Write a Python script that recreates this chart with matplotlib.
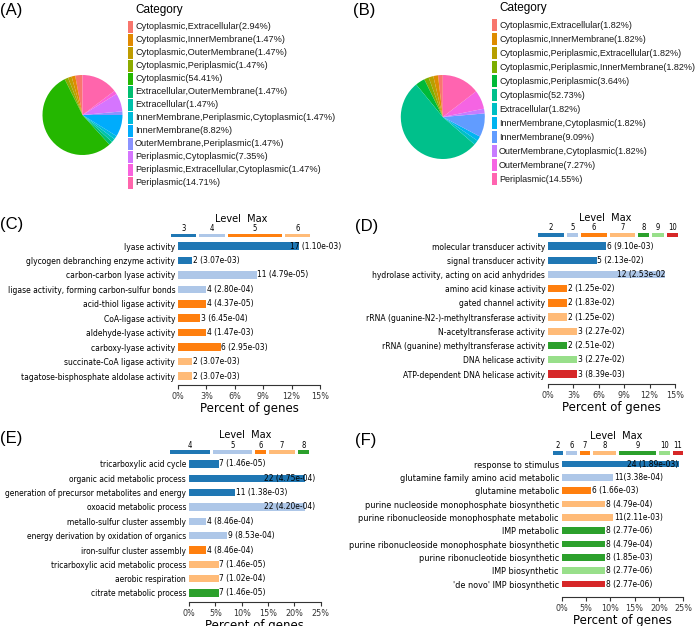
import numpy as np
import matplotlib
matplotlib.use("Agg")
import matplotlib.pyplot as plt
from matplotlib.patches import Rectangle

# ---- данные: круговые диаграммы (A), (B)
A_names = ["Cytoplasmic,Extracellular", "Cytoplasmic,InnerMembrane", "Cytoplasmic,OuterMembrane",
           "Cytoplasmic,Periplasmic", "Cytoplasmic", "Extracellular,OuterMembrane", "Extracellular",
           "InnerMembrane,Periplasmic,Cytoplasmic", "InnerMembrane", "OuterMembrane,Periplasmic",
           "Periplasmic,Cytoplasmic", "Periplasmic,Extracellular,Cytoplasmic", "Periplasmic"]
A_pct = [2.94, 1.47, 1.47, 1.47, 54.41, 1.47, 1.47, 1.47, 8.82, 1.47, 7.35, 1.47, 14.71]
A_colors = ["#F8766D", "#E18A00", "#BE9C00", "#8CAB00", "#24B700", "#00BE70", "#00C1AB",
            "#00BBDA", "#00ACFC", "#8B93FF", "#D575FE", "#F962DD", "#FF65AC"]

B_names = ["Cytoplasmic,Extracellular", "Cytoplasmic,InnerMembrane", "Cytoplasmic,Periplasmic,Extracellular",
           "Cytoplasmic,Periplasmic,InnerMembrane", "Cytoplasmic,Periplasmic", "Cytoplasmic", "Extracellular",
           "InnerMembrane,Cytoplasmic", "InnerMembrane", "OuterMembrane,Cytoplasmic", "OuterMembrane",
           "Periplasmic"]
B_pct = [1.82, 1.82, 1.82, 1.82, 3.64, 52.73, 1.82, 1.82, 9.09, 1.82, 7.27, 14.55]
B_colors = ["#F8766D", "#DE8C00", "#B79F00", "#7CAE00", "#00BA38", "#00C08B", "#00BFC4",
            "#00B4F0", "#619CFF", "#C77CFF", "#F564E3", "#FF64B0"]

# ---- данные: столбчатые диаграммы (C)-(F)
C_terms = ["lyase activity", "glycogen debranching enzyme activity", "carbon-carbon lyase activity",
           "ligase activity, forming carbon-sulfur bonds", "acid-thiol ligase activity", "CoA-ligase activity",
           "aldehyde-lyase activity", "carboxy-lyase activity", "succinate-CoA ligase activity",
           "tagatose-bisphosphate aldolase activity"]
C_pct = [12.8, 1.5, 8.3, 3.0, 3.0, 2.3, 3.0, 4.5, 1.5, 1.5]
C_level = [3, 3, 4, 4, 5, 5, 5, 5, 6, 6]
C_labels = ["17 (1.10e-03)", "2 (3.07e-03)", "11 (4.79e-05)", "4 (2.80e-04)", "4 (4.37e-05)",
            "3 (6.45e-04)", "4 (1.47e-03)", "6 (2.95e-03)", "2 (3.07e-03)", "2 (3.07e-03)"]

D_terms = ["molecular transducer activity", "signal transducer activity",
           "hydrolase activity, acting on acid anhydrides", "amino acid kinase activity",
           "gated channel activity", "rRNA (guanine-N2-)-methyltransferase activity",
           "N-acetyltransferase activity", "rRNA (guanine) methyltransferase activity",
           "DNA helicase activity", "ATP-dependent DNA helicase activity"]
D_pct = [6.9, 5.75, 13.8, 2.3, 2.3, 2.3, 3.45, 2.3, 3.45, 3.45]
D_level = [2, 2, 5, 6, 6, 7, 7, 8, 9, 10]
D_labels = ["6 (9.10e-03)", "5 (2.13e-02)", "12 (2.53e-02", "2 (1.25e-02)", "2 (1.83e-02)",
            "2 (1.25e-02)", "3 (2.27e-02)", "2 (2.51e-02)", "3 (2.27e-02)", "3 (8.39e-03)"]

E_terms = ["tricarboxylic acid cycle", "organic acid metabolic process",
           "generation of precursor metabolites and energy", "oxoacid metabolic process",
           "metallo-sulfur cluster assembly", "energy derivation by oxidation of organics",
           "iron-sulfur cluster assembly", "tricarboxylic acid metabolic process",
           "aerobic respiration", "citrate metabolic process"]
E_pct = [5.6, 22.0, 8.8, 22.0, 3.2, 7.2, 3.2, 5.6, 5.6, 5.6]
E_level = [4, 4, 4, 5, 5, 5, 6, 7, 7, 8]
E_labels = ["7 (1.46e-05)", "22 (4.75e-04)", "11 (1.38e-03)", "22 (4.20e-04)", "4 (8.46e-04)",
            "9 (8.53e-04)", "4 (8.46e-04)", "7 (1.46e-05)", "7 (1.02e-04)", "7 (1.46e-05)"]

F_terms = ["response to stimulus", "glutamine family amino acid metabolic", "glutamine metabolic",
           "purine nucleoside monophosphate biosynthetic", "purine ribonucleoside monophosphate metabolic",
           "IMP metabolic", "purine ribonucleoside monophosphate biosynthetic",
           "purine ribonucleotide biosynthetic", "IMP biosynthetic", "'de novo' IMP biosynthetic"]
F_pct = [24.1, 10.6, 6.0, 9.0, 10.6, 9.0, 9.0, 9.0, 9.0, 9.0]
F_level = [2, 6, 7, 8, 8, 9, 9, 9, 10, 11]
F_labels = ["24 (1.89e-03)", "11(3.38e-04)", "6 (1.66e-03)", "8 (4.79e-04)", "11(2.11e-03)",
            "8 (2.77e-06)", "8 (4.79e-04)", "8 (1.85e-03)", "8 (2.77e-06)", "8 (2.77e-06)"]

C_ticks = [0, 3, 6, 9, 12, 15]
D_ticks = [0, 3, 6, 9, 12, 15]
E_ticks = [0, 5, 10, 15, 20, 25]
F_ticks = [0, 5, 10, 15, 20, 25]

tab = ["#1f77b4", "#aec7e8", "#ff7f0e", "#ffbb78", "#2ca02c", "#98df8a", "#d62728"]

W, H = 696, 626
fig = plt.figure(figsize=(W / 100, H / 100), dpi=100)
ov = fig.add_axes([0, 0, 1, 1], zorder=5)
ov.set_xlim(0, W)
ov.set_ylim(H, 0)
ov.axis("off")
ov.patch.set_alpha(0)

COND = dict(family="DejaVu Sans", stretch="condensed")


def pie_panel(cx, cy, r, pct, colors, names, lx, ly0, dy, letter, letx, fs=6.6):
    ax = fig.add_axes([(cx - r) / W, 1 - (cy + r) / H, 2 * r / W, 2 * r / H])
    ax.pie(pct, colors=colors, startangle=90, counterclock=True,
           wedgeprops=dict(linewidth=0))
    ax.set_xlim(-1, 1)
    ax.set_ylim(-1, 1)
    ov.text(lx, ly0 - 17, "Category", fontsize=8.5, family="Liberation Sans", va="center")
    for i, (nm, p, c) in enumerate(zip(names, pct, colors)):
        y = ly0 + i * dy
        ov.add_patch(Rectangle((lx - 7.5, y - dy / 2 + 0.6), 5, dy - 1.2, color=c, lw=0))
        ov.text(lx, y, f"{nm}({p:.2f}%)", fontsize=fs, family="Liberation Sans",
                color="#1a1a1a", va="center")
    ov.text(letx, 10, letter, fontsize=12, family="Liberation Sans", va="center")


pie_panel(82.5, 115, 40, A_pct, A_colors, A_names, 135, 26.7, 13, "(A)", 0)
pie_panel(442.8, 117, 42, B_pct, B_colors, B_names, 499, 25, 14, "(B)", 353, fs=6.45)


def bar_panel(left, right, first, last, axis_y, xmax, ticks, terms, pct, levels, labels,
              lab_lim, leg_left, leg_w, leg_y, lm_x, letter, letx, lety, fs=6.1):
    n = len(terms)
    sp = (last - first) / (n - 1)
    top = first - 0.6 * sp
    ax = fig.add_axes([left / W, 1 - axis_y / H, (right - left) / W, (axis_y - top) / H])
    uniq = sorted(set(levels))
    cmap = {lv: tab[i] for i, lv in enumerate(uniq)}
    y = np.arange(n)
    ax.barh(y, pct, height=0.52, color=[cmap[lv] for lv in levels], zorder=2)
    ax.set_xlim(0, xmax)
    ax.set_ylim(n - 1 + (axis_y - last) / sp, -0.6)
    for s in ["top", "right", "left"]:
        ax.spines[s].set_visible(False)
    ax.spines["bottom"].set_color("#333333")
    ax.spines["bottom"].set_linewidth(0.8)
    ax.set_yticks(y)
    ax.set_yticklabels(terms, fontsize=fs, **COND)
    ax.tick_params(axis="y", length=0, pad=2)
    ax.set_xticks(ticks)
    ax.set_xticklabels([f"{t}%" for t in ticks], fontsize=6.5, **COND)
    ax.tick_params(axis="x", length=3, width=0.8, pad=2, colors="#333333")
    ax.set_xlabel("Percent of genes", fontsize=8.5, family="DejaVu Sans", labelpad=1)
    for yi, p, lab in zip(y, pct, labels):
        if p > 0.75 * xmax:
            ax.text(lab_lim, yi, lab, ha="right", va="center", fontsize=6, zorder=3, **COND)
        else:
            ax.text(p + xmax * 0.006, yi, lab, ha="left", va="center", fontsize=6, zorder=3, **COND)
    # легенда уровней
    counts = [levels.count(lv) for lv in uniq]
    gap = 3
    unit = (leg_w + gap) / n
    x0 = leg_left
    for lv, c in zip(uniq, counts):
        w = c * unit - gap
        ov.add_patch(Rectangle((x0, leg_y - 1.8), w, 3.6, color=cmap[lv], lw=0))
        ov.text(x0 + w / 2, leg_y - 7, str(lv), fontsize=5.5, ha="center", va="center", **COND)
        x0 += c * unit
    ov.text(lm_x, leg_y - 17, "Level  Max", fontsize=7, family="DejaVu Sans", ha="center", va="center")
    ov.text(letx, lety, letter, fontsize=12, family="Liberation Sans", va="center")
    return ax


bar_panel(178, 320, 246, 376, 385, 15, C_ticks, C_terms, C_pct, C_level, C_labels,
          17.2, 171, 139, 235.5, 241, "(C)", 0, 225)
bar_panel(548, 675, 246, 374, 384, 15, D_ticks, D_terms, D_pct, D_level, D_labels,
          13.9, 538, 140, 235, 605, "(D)", 355, 226)
bar_panel(189, 320.7, 464, 593, 602, 25, E_ticks, E_terms, E_pct, E_level, E_labels,
          23.9, 170, 139, 452, 245, "(E)", 0, 439, fs=6.0)
bar_panel(561.7, 683.3, 464, 584, 597, 25, F_ticks, F_terms, F_pct, F_level, F_labels,
          23.9, 553, 130, 452.7, 616, "(F)", 355, 440, fs=6.5)

fig.savefig("out.png", dpi=100)
